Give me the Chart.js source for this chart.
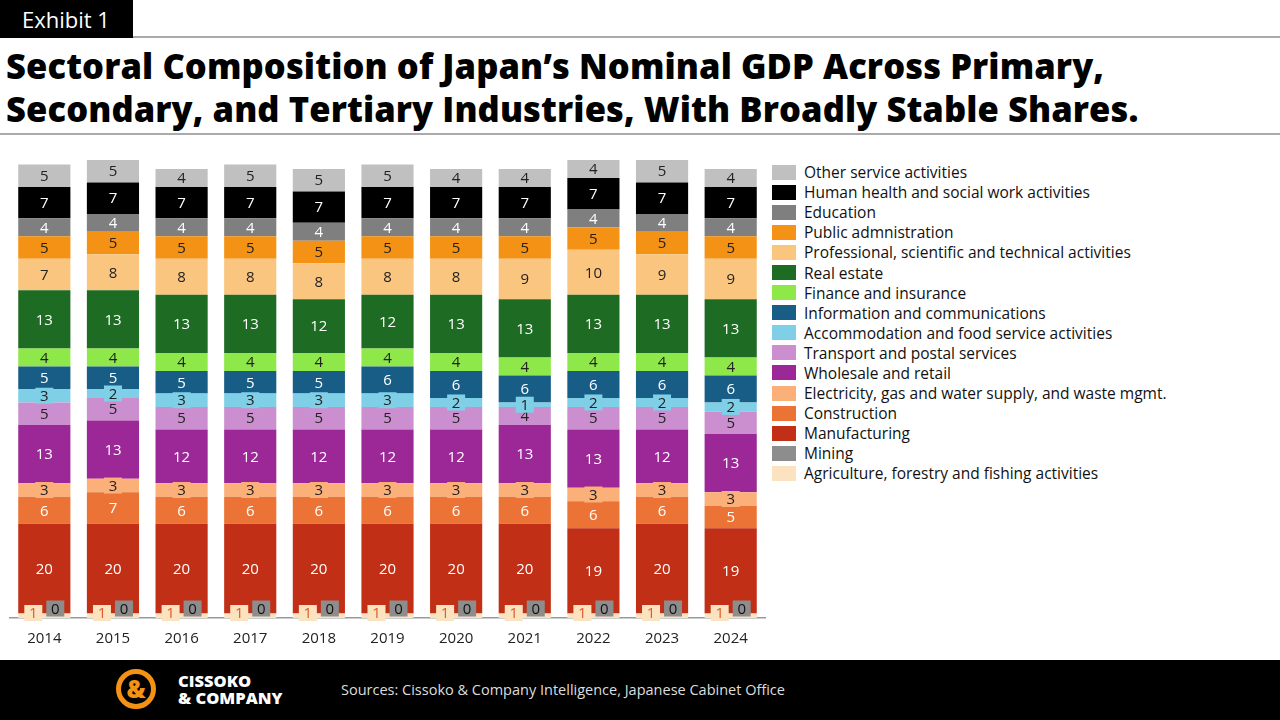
<!DOCTYPE html>
<html><head><meta charset="utf-8">
<script src="https://cdn.jsdelivr.net/npm/chart.js@4"></script>
<style>
body{margin:0;width:1280px;height:720px;overflow:hidden;background:#fff;font-family:"Open Sans",sans-serif;position:relative}
#tag{position:absolute;left:0;top:0;width:133px;height:38px;background:#000;color:#fff;font-size:22px;line-height:38px;padding-left:22px;box-sizing:border-box}
.rule{position:absolute;left:133px;right:0;height:2px;background:#aaa}
#title{position:absolute;left:6px;top:44px;font-size:34.5px;font-weight:800;line-height:43px;color:#000;letter-spacing:0.1px;white-space:nowrap}
#wrap{position:absolute;left:0;top:150px;width:770px;height:510px}
#legend{position:absolute;left:772px;top:162px;font-size:15.5px;color:#111}
#legend div{height:20.1px;line-height:20px;display:flex;align-items:center}
#legend span{display:inline-block;width:24px;height:15px;margin-right:8px}
#foot{position:absolute;left:0;top:660px;width:1280px;height:60px;background:#000;color:#ccc}
#src{position:absolute;left:341px;top:20px;font-size:14.5px;color:#ddd}
#logo{position:absolute;left:116px;top:9px;width:40px;height:40px;border:5px solid #f39214;border-radius:50%;box-sizing:border-box;color:#f39214;font-size:24px;font-weight:800;text-align:center;line-height:30px}
#brand{position:absolute;left:178px;top:12px;color:#fff;font-weight:800;font-size:16.5px;line-height:17px}
</style></head><body>
<div id="tag">Exhibit 1</div>
<div class="rule" style="top:36px"></div>
<div id="title">Sectoral Composition of Japan’s Nominal GDP Across Primary,<br>Secondary, and Tertiary Industries, With Broadly Stable Shares.</div>
<div class="rule" style="top:133px;left:0"></div>
<div id="wrap"><canvas id="c"></canvas></div>
<div id="legend"></div>
<div id="foot"><div id="logo">&amp;</div><div id="brand">CISSOKO<br>&amp; COMPANY</div><div id="src">Sources: Cissoko &amp; Company Intelligence, Japanese Cabinet Office</div></div>
<script>
const years = ['2014','2015','2016','2017','2018','2019','2020','2021','2022','2023','2024'];
// bottom to top
const sectors = ['Agriculture, forestry and fishing activities','Mining','Manufacturing','Construction',
  'Electricity, gas and water supply, and waste mgmt.','Wholesale and retail','Transport and postal services',
  'Accommodation and food service activities','Information and communications','Finance and insurance',
  'Real estate','Professional, scientific and technical activities','Public admnistration','Education',
  'Human health and social work activities','Other service activities'];
const colors = ['#fbe3c0','#8d8d8d','#c12f17','#ea7335','#fbb07a','#9b2896','#cb8fd0','#7fcfe6','#175d86','#8fe84a',
  '#1e6b23','#fac67f','#f39214','#7f7f7f','#000000','#c0c0c0'];
const agriculture   = [1,1,1,1,1,1,1,1,1,1,1];
const mining        = [0,0,0,0,0,0,0,0,0,0,0];
const manufacturing = [20,20,20,20,20,20,20,20,19,20,19];
const construction  = [6,7,6,6,6,6,6,6,6,6,5];
const electricity   = [3,3,3,3,3,3,3,3,3,3,3];
const wholesale     = [13,13,12,12,12,12,12,13,13,12,13];
const transport     = [5,5,5,5,5,5,5,4,5,5,5];
const accommodation = [3,2,3,3,3,3,2,1,2,2,2];
const infoComm      = [5,5,5,5,5,6,6,6,6,6,6];
const finance       = [4,4,4,4,4,4,4,4,4,4,4];
const realEstate    = [13,13,13,13,12,12,13,13,13,13,13];
const professional  = [7,8,8,8,8,8,8,9,10,9,9];
const publicAdmin   = [5,5,5,5,5,5,5,5,5,5,5];
const education     = [4,4,4,4,4,4,4,4,4,4,4];
const health        = [7,7,7,7,7,7,7,7,7,7,7];
const otherService  = [5,5,4,5,5,5,4,4,4,5,4];
const series = [agriculture,mining,manufacturing,construction,electricity,wholesale,transport,accommodation,
  infoComm,finance,realEstate,professional,publicAdmin,education,health,otherService];
const darkText = new Set([0,4,6,7,9,11,12,15]);
const lg = document.getElementById('legend');
for (let i = sectors.length-1; i >= 0; i--) {
  lg.innerHTML += `<div><span style="background:${colors[i]}"></span>${sectors[i]}</div>`;
}
const labelPlugin = {
  id:'lbl',
  afterDatasetsDraw(chart){
    const ctx = chart.ctx;
    ctx.save();
    ctx.font = '15px "Open Sans"';
    ctx.textAlign='center'; ctx.textBaseline='middle';
    chart.data.datasets.forEach((ds,di)=>{
      chart.getDatasetMeta(di).data.forEach((bar,j)=>{
        const v = ds.data[j];
        let x = bar.x, y = (bar.y+bar.base)/2;
        const h = Math.abs(bar.base-bar.y);
        if (di<=1 || h<15) {
          if (di===0) x -= 11; else if (di===1) x += 11;
          if (di<=1) y = bar.base-5;
          const w = 18;
          ctx.fillStyle = colors[di];
          ctx.fillRect(x-w/2,y-8,w,16);
        }
        ctx.fillStyle = darkText.has(di) ? (di===0?'#e05a2b':'#222') : (di===1?'#111':'#fff');
        ctx.fillText(v,x,y+1);
      });
    });
    ctx.restore();
  }
};
new Chart(document.getElementById('c'),{
  type:'bar',
  data:{labels:years,datasets:series.map((d,i)=>({label:sectors[i],data:d,backgroundColor:colors[i],
    barPercentage:0.76,categoryPercentage:1}))},
  options:{responsive:true,maintainAspectRatio:false,animation:false,
    layout:{padding:{left:10,right:5,top:10,bottom:8}},
    plugins:{legend:{display:false},tooltip:{enabled:false}},
    scales:{
      x:{stacked:true,grid:{display:false},border:{color:'#999',width:1.5},
        ticks:{color:'#222',font:{size:15,family:'"Open Sans"'},padding:4}},
      y:{stacked:true,display:false,min:0,max:102}
    }},
  plugins:[labelPlugin]
});
</script>
</body></html>
